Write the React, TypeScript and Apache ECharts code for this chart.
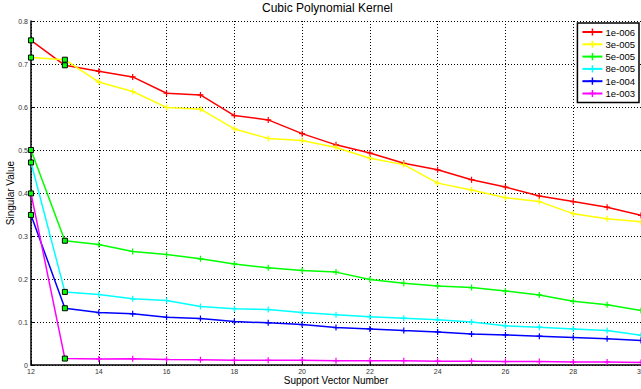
import React, { useEffect, useRef } from "react";
import * as echarts from "echarts";

const supportVectors = [12, 13, 14, 15, 16, 17, 18, 19, 20, 21, 22, 23, 24, 25, 26, 27, 28, 29, 30];
const seriesNames = ["1e-006", "3e-005", "5e-005", "8e-005", "1e-004", "1e-003"];
const seriesColors = ["#ff0000", "#ffff00", "#00ff00", "#00ffff", "#0000ff", "#ff00ff"];

const s1e006 = [0.755, 0.697, 0.683, 0.670, 0.632, 0.628, 0.580, 0.570, 0.538, 0.512, 0.493, 0.469, 0.454, 0.431, 0.414, 0.393, 0.380, 0.367, 0.348];
const s3e005 = [0.715, 0.710, 0.658, 0.636, 0.599, 0.595, 0.549, 0.527, 0.522, 0.506, 0.481, 0.466, 0.423, 0.407, 0.389, 0.380, 0.352, 0.340, 0.333];
const s5e005 = [0.500, 0.289, 0.280, 0.264, 0.257, 0.247, 0.235, 0.226, 0.220, 0.216, 0.199, 0.190, 0.184, 0.180, 0.172, 0.163, 0.148, 0.140, 0.127];
const s8e005 = [0.471, 0.170, 0.164, 0.154, 0.150, 0.136, 0.131, 0.129, 0.122, 0.117, 0.112, 0.109, 0.105, 0.100, 0.091, 0.088, 0.084, 0.080, 0.069];
const s1e004 = [0.349, 0.132, 0.122, 0.119, 0.111, 0.108, 0.101, 0.098, 0.094, 0.087, 0.084, 0.080, 0.077, 0.072, 0.070, 0.067, 0.064, 0.061, 0.057];
const s1e003 = [0.399, 0.015, 0.014, 0.0147, 0.013, 0.012, 0.011, 0.011, 0.011, 0.010, 0.010, 0.010, 0.009, 0.009, 0.008, 0.008, 0.007, 0.007, 0.006];

const allValues = [s1e006, s3e005, s5e005, s8e005, s1e004, s1e003];
const markedIndices = [0, 1];

const FONT = "'Liberation Sans', Arial, Helvetica, sans-serif";
const PLUS = "path://M2,0h1v2h2v1h-2v2h-1v-2h-2v-1h2z";

export default function App() {
  const ref = useRef<HTMLDivElement>(null);

  useEffect(() => {
    if (!ref.current) return;
    const chart = echarts.init(ref.current, undefined, { renderer: "svg" });

    const series = allValues.map((vals, si) => ({
      name: seriesNames[si],
      type: "line",
      symbol: PLUS,
      symbolSize: 6,
      color: seriesColors[si],
      lineStyle: { color: seriesColors[si], width: 1.5 },
      itemStyle: { color: seriesColors[si] },
      z: 2 + si,
      data: vals.map((v, i) =>
        markedIndices.includes(i)
          ? {
              value: [supportVectors[i], v],
              symbol: "rect",
              symbolSize: 5,
              itemStyle: { color: "#00ff00", borderColor: "#000", borderWidth: 1 },
            }
          : { value: [supportVectors[i], v] }
      ),
    }));

    chart.setOption({
      animation: false,
      backgroundColor: "#fff",
      textStyle: { fontFamily: FONT },
      title: {
        text: "Cubic Polynomial Kernel",
        left: 262,
        top: 2,
        padding: 0,
        textStyle: { fontSize: 12, fontWeight: "normal", color: "#000", fontFamily: FONT },
      },
      grid: { left: 31, right: 0, top: 21, bottom: 24, containLabel: false, outerBoundsMode: "none" },
      legend: {
        orient: "vertical",
        right: 2,
        top: 23,
        padding: [4, 4, 4, 4],
        itemWidth: 20,
        itemHeight: 9,
        itemGap: 2.3,
        backgroundColor: "#fff",
        borderColor: "#000",
        borderWidth: 1.5,
        borderRadius: 0,
        textStyle: { fontSize: 9.5, color: "#000", fontFamily: FONT, padding: [0, 0, 0, -2] },
        data: seriesNames,
      },
      xAxis: {
        type: "value",
        min: 12,
        max: 30,
        interval: 2,
        name: "Support Vector Number",
        nameLocation: "middle",
        nameGap: 10,
        nameMoveOverlap: false,
        nameTextStyle: { fontSize: 10, color: "#000", fontFamily: FONT },
        axisLine: { show: true, onZero: false, lineStyle: { color: "#000", width: 1.5 } },
        axisTick: { show: true, inside: true, length: 4, lineStyle: { color: "#000" } },
        axisLabel: { fontSize: 7, color: "#333", margin: 3, fontFamily: FONT },
        splitLine: { show: true, lineStyle: { color: "#000", type: [1, 2], width: 1 } },
      },
      yAxis: {
        type: "value",
        min: 0,
        max: 0.8,
        interval: 0.1,
        name: "Singular Value",
        nameLocation: "middle",
        nameGap: 16,
        nameMoveOverlap: false,
        nameTextStyle: { fontSize: 10, color: "#000", fontFamily: FONT },
        axisLine: { show: true, onZero: false, lineStyle: { color: "#000", width: 1.5 } },
        axisTick: { show: true, inside: true, length: 4, lineStyle: { color: "#000" } },
        axisLabel: { fontSize: 7, color: "#333", margin: 3, fontFamily: FONT },
        splitLine: { show: true, lineStyle: { color: "#000", type: [1, 2], width: 1 } },
      },
      series,
    });

    return () => chart.dispose();
  }, []);

  return (
    <div
      ref={ref}
      style={{ position: "absolute", left: 0, top: 0, width: 641, height: 389 }}
    />
  );
}
